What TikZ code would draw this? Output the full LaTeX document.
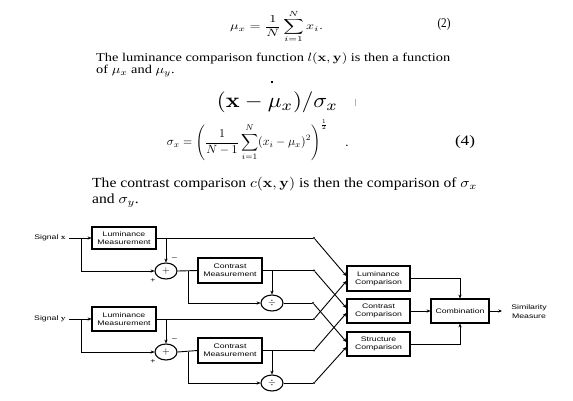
\documentclass[tikz,border=0pt]{standalone}
\usepackage[no-math]{fontspec}
\setmainfont{Liberation Serif}
\newfontfamily\diagfont[FakeStretch=1.32]{Liberation Sans}
\usepackage{graphicx}
\usetikzlibrary{arrows.meta,shapes.geometric}
\newcommand\sqz[3]{\resizebox{#1}{!}{\scalebox{1}[#2]{#3}}}
\newcommand\fitbox[3]{\resizebox*{#1}{#2}{#3}}
\definecolor{markorange}{RGB}{240,165,70}
\tikzset{
  blk/.style={draw, line width=1.1pt, inner sep=0, align=center,
    font=\diagfont\fontsize{6.6}{8.4}\selectfont, minimum width=64pt, minimum height=24pt},
  op/.style={draw, ellipse, line width=1.1pt, inner sep=0, minimum width=22pt, minimum height=16pt},
  ln/.style={line width=0.9pt},
  arr/.style={ln, -{Stealth[length=3.8pt,width=3.2pt]}},
  lbl/.style={inner sep=0, font=\diagfont\fontsize{6.6}{8.4}\selectfont, align=center},
  jdot/.style={circle, fill, inner sep=0, minimum size=2.2pt},
  txt/.style={inner sep=0},
}
\begin{document}
\begin{tikzpicture}[x=1pt,y=-1pt]
\useasboundingbox[fill=white] (0,0) rectangle (573,400);

% ---- text and equations ----
\node[txt] (e2) at (276.5,26.5) {\fitbox{93pt}{33pt}{$\displaystyle \mu_x=\frac{1}{N}\sum_{i=1}^{N}x_i.$}};
\node[txt] (n2) at (444,24) {\fitbox{13pt}{12pt}{(2)}};
\node[txt, anchor=base west] (p1) at (96,61) {\sqz{354pt}{0.83}{\fontsize{10}{10.5}\selectfont
  \begin{tabular}[t]{@{}l@{}}The luminance comparison function $l(\mathbf{x},\mathbf{y})$ is then a function\\
  of $\mu_x$ and $\mu_y$.\end{tabular}}};
\fill (271,80.5) rectangle (273,83);
\node[txt] (ex) at (277.5,102.5) {\fitbox{121pt}{21pt}{$(\mathbf{x}-\mu_x)/\sigma_x$}};
\draw[markorange, line width=0.9pt] (355.5,99) -- (355.5,106);
\node[txt] (e4) at (247.5,140.5) {\fitbox{161pt}{41pt}{$\displaystyle \sigma_x=\left(\frac{1}{N-1}\sum_{i=1}^{N}(x_i-\mu_x)^2\right)^{\frac12}$}};
\node[txt, anchor=base] (d4) at (347,146) {\scalebox{1.5}[1.3]{$.$}};
\node[txt] (n4) at (465,142) {\fitbox{20pt}{13pt}{(4)}};
\node[txt, anchor=base west] (p2) at (92,187) {\sqz{385pt}{0.89}{\fontsize{10}{12}\selectfont
  \begin{tabular}[t]{@{}l@{}}The contrast comparison $c(\mathbf{x},\mathbf{y})$ is then the comparison of $\sigma_x$\\
  and $\sigma_y$.\end{tabular}}};

% ---- diagram: signal x ----
\node[lbl, inner xsep=3pt] (sigx) at (50,238) {Signal $\mathbf{x}$};
\node[blk, minimum height=22pt] (lumx) at (124,238) {Luminance\\Measurement};
\node[op] (plusx) at (166,271) {$+$};
\node[blk, minimum height=25pt] (conx) at (230,270.5) {Contrast\\Measurement};
\node[op] (divx) at (272,303) {$\div$};
\node[lbl] (mx) at (174.5,259) {–};
\node[lbl] (px) at (153,281) {+};

% ---- signal y ----
\node[lbl, inner xsep=3pt] (sigy) at (50,319) {Signal $\mathbf{y}$};
\node[blk] (lumy) at (124,319) {Luminance\\Measurement};
\node[op] (plusy) at (166,352) {$+$};
\node[blk, minimum height=25pt] (cony) at (230,350.5) {Contrast\\Measurement};
\node[op] (divy) at (272,383) {$\div$};
\node[lbl] (my) at (174.5,340) {–};
\node[lbl] (py) at (153,362) {+};

% ---- comparisons ----
\node[blk, minimum width=63pt, minimum height=25pt] (lumc) at (378.5,278.5) {Luminance\\Comparison};
\node[blk, minimum width=63pt] (conc) at (378.5,311) {Contrast\\Comparison};
\node[blk, minimum width=63pt] (strc) at (378.5,344) {Structure\\Comparison};
\node[blk, minimum width=58pt] (comb) at (460,311) {Combination};
\node[lbl] (sim) at (529,311.5) {Similarity\\Measure};
\coordinate (simin) at (502,311);

% junction dots
\node[jdot] (dlx) at (314,238) {};
\node[jdot] (dcx) at (314,270.5) {};
\node[jdot] (ddx) at (313,303) {};
\node[jdot] (dly) at (314,319) {};
\node[jdot] (dcy) at (314,350.5) {};
\node[jdot] (ddy) at (314,383) {};

% branch points
\coordinate (jx) at (81,238);
\coordinate (jlx) at (166,238);
\coordinate (jpx) at (188,271);
\coordinate (jcx) at (272,270.5);
\coordinate (jy) at (81,319);
\coordinate (jly) at (166,319);
\coordinate (jpy) at (188,352);
\coordinate (jcy) at (272,350.5);

% x branch
\draw[arr] (sigx) -- (lumx);
\draw[arr] (jx) |- (plusx.west);
\draw[ln] (lumx.east) -- (dlx);
\draw[arr] (jlx) -- (plusx.north);
\draw[ln] (plusx.east) -- (conx.west);
\draw[arr] (jpx) |- (divx.west);
\draw[ln] (conx.east) -- (dcx);
\draw[arr] (jcx) -- (divx.north);
\draw[ln] (divx.east) -- (ddx);

% y branch
\draw[arr] (sigy) -- (lumy);
\draw[arr] (jy) |- (plusy.west);
\draw[ln] (lumy.east) -- (dly);
\draw[arr] (jly) -- (plusy.north);
\draw[ln] (plusy.east) -- (cony.west);
\draw[arr] (jpy) |- (divy.west);
\draw[ln] (cony.east) -- (dcy);
\draw[arr] (jcy) -- (divy.north);
\draw[ln] (divy.east) -- (ddy);

% crossings
\draw[arr] (dlx) -- ([yshift=2.5pt]lumc.west);
\draw[arr] (dly) -- ([yshift=-2.5pt]lumc.west);
\draw[arr] (dcx) -- ([yshift=3pt]conc.west);
\draw[arr] (dcy) -- ([yshift=-2pt]conc.west);
\draw[arr] (ddx) -- ([yshift=2pt]strc.west);
\draw[arr] (ddy) -- ([yshift=-3pt]strc.west);

% outputs
\draw[arr] (lumc.east) -| (comb.north);
\draw[arr] (strc.east) -| (comb.south);
\draw[arr] (conc.east) -- (comb.west);
\draw[arr] (comb.east) -- (simin);
\end{tikzpicture}
\end{document}
